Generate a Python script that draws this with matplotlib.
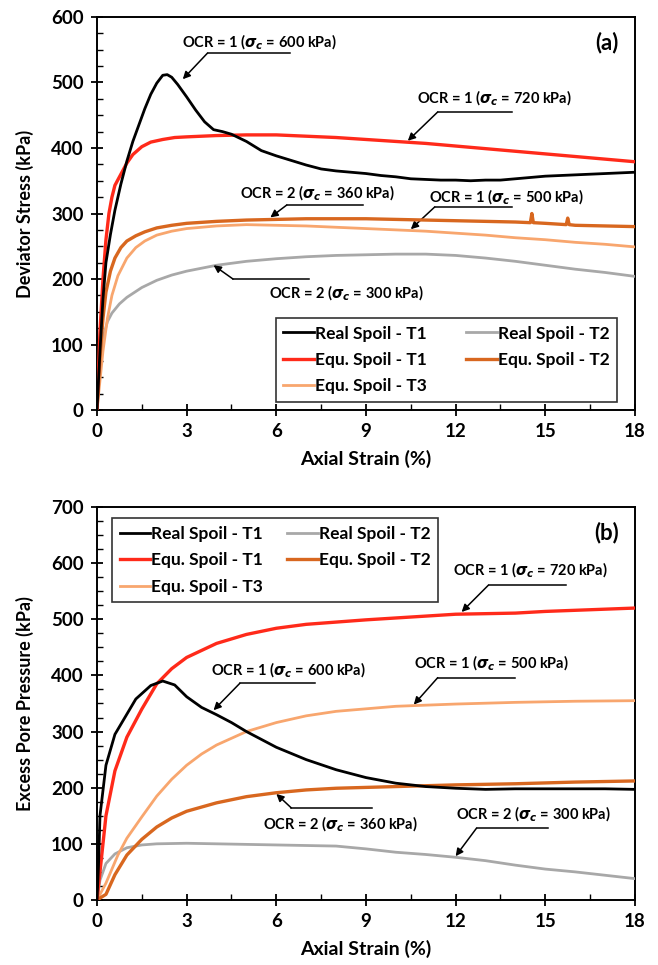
import matplotlib
matplotlib.use("Agg")
import matplotlib.pyplot as plt
from matplotlib.ticker import MultipleLocator

plt.rcParams['font.family'] = ['Lato', 'DejaVu Sans']
plt.rcParams['font.weight'] = 'bold'
plt.rcParams['mathtext.fontset'] = 'dejavusans'

# ---- (a) deviator stress ----
a_real1_x = [0, 0.1, 0.2, 0.3, 0.45, 0.6, 0.8, 1.0, 1.2, 1.4, 1.6, 1.8, 2.0, 2.2, 2.35, 2.5, 2.7,
             3.0, 3.3, 3.6, 3.9, 4.2, 4.5, 5.0, 5.5, 6.0, 6.5, 7.0, 7.5, 8.0, 8.5, 9.0, 9.5, 10.0,
             10.5, 11.0, 11.5, 12.0, 12.5, 13.0, 13.5, 14.0, 14.5, 15.0, 15.5, 16.0, 16.5, 17.0, 17.5, 18.0]
a_real1_y = [0, 90, 170, 225, 268, 305, 345, 380, 410, 435, 460, 482, 499, 511, 512, 508, 497,
             478, 458, 440, 428, 425, 421, 410, 396, 388, 381, 374, 368, 365, 363, 361, 358, 356,
             353, 352, 351, 351, 350, 351, 351, 353, 355, 357, 358, 359, 360, 361, 362, 363]

a_equ1_x = [0, 0.05, 0.1, 0.2, 0.3, 0.4, 0.5, 0.6, 0.8, 1.0, 1.2, 1.5, 1.8, 2.2, 2.6, 3.0, 4.0,
            5.0, 6.0, 7.0, 8.0, 9.0, 10.0, 11.0, 12.0, 13.0, 14.0, 15.0, 16.0, 17.0, 18.0]
a_equ1_y = [0, 60, 120, 200, 260, 300, 325, 343, 360, 377, 390, 402, 409, 413, 416, 417, 419,
            420, 420, 418, 416, 413, 410, 407, 403, 399, 395, 391, 387, 383, 379]

a_real2_x = [0, 0.05, 0.1, 0.2, 0.35, 0.5, 0.75, 1.0, 1.5, 2.0, 2.5, 3.0, 4.0, 5.0, 6.0, 7.0, 8.0,
             9.0, 10.0, 11.0, 12.0, 13.0, 14.0, 15.0, 16.0, 17.0, 18.0]
a_real2_y = [0, 40, 75, 110, 135, 148, 162, 172, 187, 198, 206, 212, 221, 227, 231, 234, 236,
             237, 238, 238, 236, 232, 227, 221, 215, 210, 204]

a_equ2_x = [0, 0.1, 0.2, 0.3, 0.45, 0.6, 0.8, 1.0, 1.3, 1.6, 2.0, 2.5, 3.0, 4.0, 5.0, 6.0, 7.0,
            8.0, 9.0, 10.0, 11.0, 12.0, 13.0, 14.0, 14.5, 14.55, 14.6, 15.0, 15.7, 15.75, 15.8,
            16.0, 17.0, 18.0]
a_equ2_y = [0, 80, 140, 180, 212, 232, 248, 258, 266, 272, 278, 282, 285, 288, 290, 291, 292,
            292, 292, 291, 290, 289, 288, 287, 286, 300, 286, 285, 283, 293, 283,
            282, 281, 280]

a_equ3_x = [0, 0.1, 0.2, 0.35, 0.5, 0.7, 1.0, 1.3, 1.6, 2.0, 2.5, 3.0, 4.0, 5.0, 6.0, 7.0, 8.0,
            9.0, 10.0, 11.0, 12.0, 13.0, 14.0, 15.0, 16.0, 17.0, 18.0]
a_equ3_y = [0, 45, 90, 140, 175, 205, 232, 248, 258, 267, 273, 277, 281, 283, 282, 281, 279,
            277, 275, 273, 270, 267, 263, 260, 256, 253, 249]

# ---- (b) excess pore pressure ----
b_real1_x = [0, 0.05, 0.1, 0.3, 0.6, 0.9, 1.3, 1.8, 2.2, 2.6, 3.0, 3.5, 4.0, 4.5, 5.0, 6.0, 7.0,
             8.0, 9.0, 10.0, 11.0, 12.0, 13.0, 14.0, 15.0, 16.0, 17.0, 18.0]
b_real1_y = [0, 60, 150, 240, 295, 322, 358, 382, 390, 383, 362, 343, 330, 316, 300, 272, 250,
             232, 218, 208, 202, 199, 197, 198, 198, 198, 198, 197]

b_equ1_x = [0, 0.1, 0.3, 0.6, 1.0, 1.5, 2.0, 2.5, 3.0, 4.0, 5.0, 6.0, 7.0, 9.0, 12.0, 14.0, 15.0,
            16.0, 18.0]
b_equ1_y = [0, 50, 150, 230, 290, 340, 385, 412, 432, 457, 473, 484, 491, 499, 509, 511, 514,
            516, 520]

b_real2_x = [0, 0.1, 0.3, 0.6, 1.0, 1.5, 2.0, 3.0, 4.0, 5.0, 6.0, 7.0, 8.0, 9.0, 10.0, 11.0,
             12.0, 13.0, 14.0, 15.0, 16.0, 17.0, 18.0]
b_real2_y = [0, 35, 65, 82, 93, 98, 100, 101, 100, 99, 98, 97, 96, 91, 85, 81, 76, 70, 62, 55,
             50, 44, 38]

b_equ2_x = [0, 0.3, 0.6, 1.0, 1.5, 2.0, 2.5, 3.0, 4.0, 5.0, 6.0, 7.0, 8.0, 10.0, 12.0, 14.0,
            16.0, 18.0]
b_equ2_y = [0, 10, 45, 80, 108, 130, 146, 158, 173, 184, 191, 196, 199, 202, 205, 207, 210, 212]

b_equ3_x = [0, 0.3, 0.7, 1.0, 1.5, 2.0, 2.5, 3.0, 3.5, 4.0, 5.0, 6.0, 7.0, 8.0, 10.0, 12.0,
            14.0, 16.0, 18.0]
b_equ3_y = [0, 30, 80, 110, 148, 185, 215, 240, 260, 276, 300, 316, 328, 336, 345, 349, 352,
            354, 355]

labels = ['Real Spoil - T1', 'Real Spoil - T2', 'Equ. Spoil - T1', 'Equ. Spoil - T2',
          'Equ. Spoil - T3']
colors = ['#000000', '#a8a8a8', '#ff2a1a', '#d8671f', '#f8a66e']

# annotations: text, text x/y, leader line x1,x2,y, arrow tip x,y
a_notes = [
    (r'OCR = 1 ($\sigma_c$ = 600 kPa)', 2.85, 562, 3.7, 6.45, 545, 2.87, 505),
    (r'OCR = 1 ($\sigma_c$ = 720 kPa)', 10.7, 476, 11.4, 13.9, 455, 10.4, 411),
    (r'OCR = 2 ($\sigma_c$ = 360 kPa)', 4.8, 331, 6.35, 8.9, 313, 5.8, 294),
    (r'OCR = 1 ($\sigma_c$ = 500 kPa)', 11.1, 325, 11.3, 13.9, 310, 10.5, 276),
    (r'OCR = 2 ($\sigma_c$ = 300 kPa)', 5.75, 178, 4.55, 7.1, 200, 3.9, 221),
]
b_notes = [
    (r'OCR = 1 ($\sigma_c$ = 600 kPa)', 3.8, 409, 4.78, 7.3, 386, 3.9, 338),
    (r'OCR = 1 ($\sigma_c$ = 720 kPa)', 11.9, 587, 13.1, 15.7, 561, 12.2, 513),
    (r'OCR = 1 ($\sigma_c$ = 500 kPa)', 10.6, 421, 11.4, 14.0, 396, 10.6, 348),
    (r'OCR = 2 ($\sigma_c$ = 360 kPa)', 5.55, 135, 6.5, 9.2, 164, 6.0, 189),
    (r'OCR = 2 ($\sigma_c$ = 300 kPa)', 12.0, 153, 12.7, 15.1, 128, 12.0, 78),
]

fig = plt.figure(figsize=(6.58, 9.65), dpi=100, facecolor='white')
ax1 = fig.add_axes([0.1474, 0.5751, 0.8176, 0.4073])
ax2 = fig.add_axes([0.1474, 0.0674, 0.8176, 0.4072])


def style_axes(ax, ymax, ylabel, tag):
    ax.set_xlim(0, 18)
    ax.set_ylim(0, ymax)
    ax.xaxis.set_major_locator(MultipleLocator(3))
    ax.xaxis.set_minor_locator(MultipleLocator(1.5))
    ax.yaxis.set_major_locator(MultipleLocator(100))
    ax.yaxis.set_minor_locator(MultipleLocator(25))
    ax.tick_params(which='major', direction='inout', length=9, width=1.3, labelsize=13.5, pad=5)
    ax.tick_params(which='minor', direction='in', length=4, width=1.0)
    for s in ax.spines.values():
        s.set_linewidth(1.4)
    for t in ax.get_xticklabels() + ax.get_yticklabels():
        t.set_fontweight('bold')
    ax.set_xlabel('Axial Strain (%)', fontsize=14, fontweight='bold', labelpad=7)
    ax.set_ylabel(ylabel, fontsize=13, fontweight='bold')
    ax.yaxis.set_label_coords(-0.118, 0.5)
    ax.text(0.948, 0.936, tag, transform=ax.transAxes, fontsize=16, fontweight='bold',
            ha='center', va='center')


def draw_notes(ax, notes):
    for txt, tx, ty, lx1, lx2, ly, axx, ayy in notes:
        ax.text(tx, ty, txt, fontsize=10.5, fontweight='bold', ha='left', va='center')
        ax.plot([lx1, lx2], [ly, ly], color='black', lw=1.1)
        ax.annotate('', xy=(axx, ayy), xytext=(lx1, ly),
                    arrowprops=dict(arrowstyle='-|>', color='black', lw=1.1,
                                    mutation_scale=11, shrinkA=0, shrinkB=0))


def add_legend(ax, handles, loc, anchor, colspace, pad):
    order = [0, 2, 4, 1, 3]
    leg = ax.legend([handles[i] for i in order], [labels[i] for i in order], ncol=2,
                    loc=loc, bbox_to_anchor=anchor, borderaxespad=0,
                    fontsize=12.5, handlelength=1.75, handletextpad=0.05,
                    columnspacing=colspace, labelspacing=0.6, fancybox=False,
                    framealpha=1, edgecolor='#333333', borderpad=pad)
    leg.get_frame().set_linewidth(1.2)
    for t in leg.get_texts():
        t.set_fontweight('bold')
    return leg


# panel (a)
h = {}
h[0], = ax1.plot(a_real1_x, a_real1_y, color=colors[0], lw=2.0, zorder=6)
h[1], = ax1.plot(a_real2_x, a_real2_y, color=colors[1], lw=2.0, zorder=3)
h[2], = ax1.plot(a_equ1_x, a_equ1_y, color=colors[2], lw=2.4, zorder=5)
h[3], = ax1.plot(a_equ2_x, a_equ2_y, color=colors[3], lw=2.4, zorder=4)
h[4], = ax1.plot(a_equ3_x, a_equ3_y, color=colors[4], lw=2.0, zorder=3)
style_axes(ax1, 600, 'Deviator Stress (kPa)', '(a)')
draw_notes(ax1, a_notes)
add_legend(ax1, h, 'lower right', (0.967, 0.02), 2.3, 0.45)

# panel (b)
g = {}
g[0], = ax2.plot(b_real1_x, b_real1_y, color=colors[0], lw=2.0, zorder=6)
g[1], = ax2.plot(b_real2_x, b_real2_y, color=colors[1], lw=2.0, zorder=3)
g[2], = ax2.plot(b_equ1_x, b_equ1_y, color=colors[2], lw=2.4, zorder=5)
g[3], = ax2.plot(b_equ2_x, b_equ2_y, color=colors[3], lw=2.4, zorder=4)
g[4], = ax2.plot(b_equ3_x, b_equ3_y, color=colors[4], lw=2.0, zorder=3)
style_axes(ax2, 700, 'Excess Pore Pressure (kPa)', '(b)')
draw_notes(ax2, b_notes)
add_legend(ax2, g, 'upper left', (0.028, 0.972), 1.4, 0.45)

fig.savefig('out.png', dpi=100, facecolor='white')
